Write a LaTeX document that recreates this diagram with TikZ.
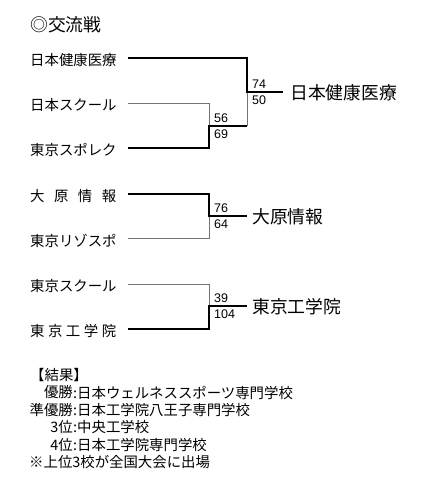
\documentclass[tikz,border=0pt]{standalone}
\usepackage{fontspec}
\setmainfont{Noto Sans CJK JP}
\newfontfamily\numfont{Liberation Sans}
\begin{document}
\begin{tikzpicture}[x=1pt,y=-1pt,
  team/.style={anchor=west,inner sep=0pt,font=\fontsize{14.4}{14.4}\selectfont},
  winner/.style={anchor=west,inner sep=0pt,font=\fontsize{17.8}{17.8}\selectfont},
  score/.style={anchor=west,inner sep=0pt,font=\numfont\fontsize{12.5}{12.5}\selectfont},
  res/.style={inner sep=0pt,font=\fontsize{14.4}{14.4}\selectfont},
  thickline/.style={line width=2pt,line join=miter,line cap=butt},
  thinline/.style={line width=0.7pt,black!55}]
\useasboundingbox (0,0) rectangle (433,490);
\fill[white] (0,0) rectangle (433,490);

% title
\node[winner] (title) at (30,25) {◎交流戦};

% ---------- bracket 1 ----------
\node[team] (n1) at (30,60) {日本健康医療};
\node[team] (n2) at (30,105) {日本スクール};
\node[team] (n3) at (30,150) {東京スポレク};
\coordinate (t1) at (128,58);
\coordinate (t2) at (128,103);
\coordinate (t3) at (128,148);
\coordinate (j1) at (209,126);
\coordinate (j2) at (247,92);
\coordinate (w1) at (283,92);
\draw[thinline] (t2) -| (j1);
\draw[thinline] (j2) -- (j2 |- j1);
\draw[thickline] (t3) -| (j1) -- (j2 |- j1);
\draw[thickline] (t1) -| (j2) -- (w1);
\node[score] (s74) at (252,84.5) {74};
\node[score] (s50) at (252,100) {50};
\node[score] (s56) at (214,118.5) {56};
\node[score] (s69) at (214,134) {69};
\node[winner] (win1) at (290,93) {日本健康医療};

% ---------- bracket 2 ----------
\node[team] (m1) at (30,196) {\makebox[86pt][s]{大\hfill 原\hfill 情\hfill 報}};
\node[team] (m2) at (30,241) {東京リゾスポ};
\coordinate (b1) at (128,194);
\coordinate (b2) at (128,238);
\coordinate (k2) at (209,216);
\coordinate (w2) at (247,216);
\draw[thinline] (b2) -| (k2);
\draw[thickline] (b1) -| (k2) -- (w2);
\node[score] (s76) at (214,208.5) {76};
\node[score] (s64) at (214,224) {64};
\node[winner] (win2) at (252,217) {大原情報};

% ---------- bracket 3 ----------
\node[team] (p1) at (30,286) {東京スクール};
\node[team] (p2) at (30,331) {\makebox[86pt][s]{東\hfill 京\hfill 工\hfill 学\hfill 院}};
\coordinate (c1) at (128,284);
\coordinate (c2) at (128,329);
\coordinate (k3) at (209,306);
\coordinate (w3) at (247,306);
\draw[thinline] (c1) -| (k3);
\draw[thickline] (c2) -| (k3) -- (w3);
\node[score] (s39) at (214,298.5) {39};
\node[score] (s104) at (214,314) {104};
\node[winner] (win3) at (252,307) {東京工学院};

% ---------- results ----------
\node[res,anchor=west] (r0) at (30,375) {【結果】};
\node[res,anchor=east] (r1a) at (73,392.5) {優勝};
\node[res,anchor=west] (r1b) at (73,392.5) {:日本ウェルネススポーツ専門学校};
\node[res,anchor=east] (r2a) at (73,410) {準優勝};
\node[res,anchor=west] (r2b) at (73,410) {:日本工学院八王子専門学校};
\node[res,anchor=east] (r3a) at (73,427.5) {3位};
\node[res,anchor=west] (r3b) at (73,427.5) {:中央工学校};
\node[res,anchor=east] (r4a) at (73,445) {4位};
\node[res,anchor=west] (r4b) at (73,445) {:日本工学院専門学校};
\node[res,anchor=west] (r5) at (29,462.5) {※上位3校が全国大会に出場};
\end{tikzpicture}
\end{document}
